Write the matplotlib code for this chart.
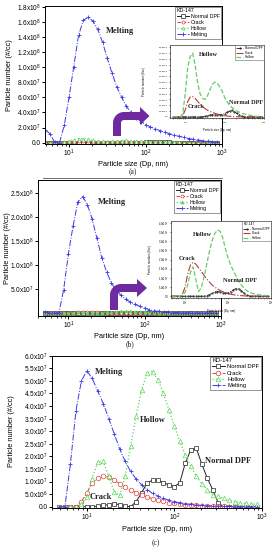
import numpy as np
import matplotlib
matplotlib.use('Agg')
import matplotlib.pyplot as plt
from matplotlib.ticker import FixedLocator, FuncFormatter, LogLocator, NullFormatter
from matplotlib.patches import Polygon

plt.rcParams['font.family'] = ['Liberation Sans', 'DejaVu Sans']
plt.rcParams['mathtext.fontset'] = 'custom'
plt.rcParams['mathtext.rm'] = 'Liberation Sans'
plt.rcParams['mathtext.it'] = 'Liberation Sans:italic'
plt.rcParams['mathtext.bf'] = 'Liberation Sans:bold'

# ---------------- data ----------------
sizes_nm = [4.87, 5.62, 6.49, 7.50, 8.66, 10.0, 11.5, 13.3, 15.4, 17.8, 20.5, 23.7,
            27.4, 31.6, 36.5, 42.2, 48.7, 56.2, 64.9, 75.0, 86.6, 100, 115, 133,
            154, 178, 205, 237, 274, 316, 365, 422, 487, 562, 649, 750, 866]
series_names = ['Normal DPF', 'Crack', 'Hollow', 'Melting']
legend_title = 'KD-147'

# panel (a): melting in 1e7 #/cc, others in 1e6 #/cc
a_melting_e7 = [1.7, 1.2, 0.05, 0, 2.3, 6.0, 10.0, 14.2, 16.2, 16.6, 16.1, 15.0,
                13.3, 11.2, 9.2, 7.4, 6.0, 4.8, 4.0, 3.3, 2.8, 2.4, 2.1, 1.85,
                1.6, 1.4, 1.2, 1.0, 0.85, 0.7, 0.55, 0.45, 0.35, 0.28, 0.2, 0.15, 0.1]
a_normal_e6 = [0, 0, 0, 0, 0, 0, 0, 0, 0, 0, 0, 0, 0,
               0.05, 0.1, 0.15, 0.18, 0.2, 0.2, 0.18, 0.2, 0.28, 0.4, 0.5, 0.55,
               0.45, 0.3, 0.15, 0.05, 0, 0, 0, 0, 0, 0, 0, 0]
a_crack_e6 = [0, 0, 0, 0, 0.1, 0.6, 1.3, 1.7, 1.75, 1.6, 1.35, 1.1, 0.9, 0.72,
              0.58, 0.47, 0.38, 0.3, 0.24, 0.18, 0.13, 0.1, 0.07, 0.05, 0.03, 0.02,
              0.01, 0, 0, 0, 0, 0, 0, 0, 0, 0, 0]
a_hollow_e6 = [0, 0, 0, 0, 0.3, 2.0, 4.2, 5.2, 5.5, 4.5, 3.0, 2.0, 1.6, 1.5, 1.8,
               2.3, 2.8, 3.0, 2.9, 2.6, 2.2, 1.7, 1.3, 1.0, 0.8, 0.65, 0.5, 0.4,
               0.3, 0.25, 0.2, 0.15, 0.1, 0.08, 0.05, 0.03, 0.02]

# panel (b)
b_melting_e7 = [0.3, 0, 0, 0, 4.8, 12.3, 18.0, 23.1, 24.2, 22.5, 19.5, 15.5,
                11.5, 8.6, 6.3, 4.8, 3.7, 2.9, 2.3, 1.8, 1.4, 1.0, 0.7, 0.5,
                0.35, 0.25, 0.18, 0.12, 0.08, 0.05, 0.03, 0.02, 0.01, 0, 0, 0, 0]
b_normal_e6 = [0, 0, 0, 0, 0, 0, 0, 0, 0, 0, 0, 0, 0,
               0.03, 0.08, 0.15, 0.22, 0.25, 0.24, 0.2, 0.17, 0.18, 0.25, 0.35, 0.42,
               0.4, 0.3, 0.15, 0.05, 0, 0, 0, 0, 0, 0, 0, 0]
b_crack_e6 = [0, 0, 0, 0, 0.1, 0.5, 1.2, 1.7, 1.85, 1.75, 1.55, 1.35, 1.15, 0.95,
              0.78, 0.62, 0.5, 0.4, 0.32, 0.25, 0.19, 0.15, 0.11, 0.08, 0.06, 0.04,
              0.03, 0.02, 0.01, 0, 0, 0, 0, 0, 0, 0, 0]
b_hollow_e6 = [0, 0, 0, 0, 0.05, 0.2, 0.6, 1.3, 1.6, 0.9, 0.25, 0.45, 1.0, 1.7,
               2.4, 3.0, 3.4, 3.6, 3.55, 3.2, 2.6, 2.1, 1.7, 1.4, 1.1, 0.8, 0.6,
               0.42, 0.3, 0.22, 0.16, 0.12, 0.09, 0.07, 0.05, 0.04, 0.03]

# panel (c): all in 1e7 #/cc
c_normal_e7 = [0, 0, 0, 0, 0, 0, 0, 0.02, 0.05, 0.08, 0.12, 0.08, 0.02, 0, 0.2,
               0.55, 0.95, 1.05, 1.07, 0.95, 0.87, 0.8, 0.95, 1.73, 2.26, 2.32, 1.7,
               1.14, 0.67, 0.15, 0, 0, 0, 0, 0, 0, 0]
c_crack_e7 = [0, 0, 0, 0, 0.2, 0.55, 0.94, 1.14, 1.2, 1.18, 1.05, 0.92, 0.78, 0.66,
              0.56, 0.47, 0.39, 0.32, 0.26, 0.21, 0.16, 0.13, 0.1, 0.08, 0.06, 0.05,
              0.04, 0.03, 0.02, 0.015, 0.01, 0.005, 0, 0, 0, 0, 0]
c_hollow_e7 = [0, 0, 0, 0, 0.1, 0.4, 1.12, 1.77, 1.8, 1.2, 0.6, 0.45, 1.2, 2.4,
               3.6, 4.65, 5.3, 5.37, 5.05, 4.5, 3.85, 3.2, 2.6, 2.05, 1.6, 1.22,
               0.92, 0.67, 0.48, 0.41, 0.33, 0.26, 0.2, 0.15, 0.13, 0.11, 0.1]
c_melting_e7 = [0, 0, 1.7, 3.8, 5.0, 5.4, 5.1, 4.6, 4.1, 3.5, 2.9, 2.3, 1.8, 1.4,
                1.1, 0.87, 0.68, 0.53, 0.42, 0.33, 0.26, 0.2, 0.15, 0.12, 0.09,
                0.07, 0.05, 0.04, 0.03, 0.02, 0.015, 0.01, 0.005, 0, 0, 0, 0]

E6, E7 = 1e6, 1e7
x = np.array(sizes_nm)

# ---------------- styling ----------------
C_BLACK = '#222222'
C_RED = '#E2403F'
C_GREEN = '#5CD65C'
C_BLUE = '#3A3AE6'
C_PURPLE = '#6E2A9E'

W, H = 278, 550
fig = plt.figure(figsize=(W / 100, H / 100), dpi=100)


def px_axes(l, t, r, b, **kw):
    return fig.add_axes([l / W, 1 - b / H, (r - l) / W, (b - t) / H], **kw)


def sci_fmt(v, pos=None):
    if abs(v) < 1e-9:
        return '0.0'
    e = int(np.floor(np.log10(abs(v)) + 1e-9))
    m = v / 10 ** e
    return r'$%.1f\mathrm{x}10^{%d}$' % (m, e)


def dec_fmt(v, pos=None):
    return r'$10^{%d}$' % int(round(np.log10(v)))


def style_axes(ax, xlim, ylim, yticks, fs, lfs, tl, lw, pad, xlabpad, ylabx):
    ax.set_xscale('log')
    ax.set_xlim(*xlim)
    ax.set_ylim(*ylim)
    ax.yaxis.set_major_locator(FixedLocator(yticks))
    ax.yaxis.set_major_formatter(FuncFormatter(sci_fmt))
    ax.xaxis.set_major_locator(FixedLocator([10, 100, 1000]))
    ax.xaxis.set_major_formatter(FuncFormatter(dec_fmt))
    ax.xaxis.set_minor_locator(LogLocator(base=10, subs=np.arange(2, 10)))
    ax.xaxis.set_minor_formatter(NullFormatter())
    ax.tick_params(labelsize=fs, length=tl, width=lw, pad=pad, direction='out')
    ax.tick_params(which='minor', length=tl * 0.6, width=lw * 0.8)
    for s in ax.spines.values():
        s.set_linewidth(lw)
    ax.set_xlabel('Particle size (Dp, nm)', fontsize=lfs, labelpad=xlabpad)
    ax.set_ylabel('Particle number (#/cc)', fontsize=lfs)
    ax.yaxis.set_label_coords(ylabx, 0.5)


def main_lines(ax, normal, crack, hollow, melting, ms, hollow_filled=False):
    hs = []
    hs += ax.plot(x, normal, '-', color=C_BLACK, lw=0.7, marker='s', ms=ms,
                  mfc='white', mew=0.5, label=series_names[0])
    hs += ax.plot(x, crack, '--', color=C_RED, lw=0.7, marker='o', ms=ms,
                  mfc='white', mew=0.5, label=series_names[1])
    hs += ax.plot(x, hollow, ':', color=C_GREEN, lw=0.9, marker='^', ms=ms,
                  mfc=(C_GREEN if hollow_filled else 'white'), mew=0.5,
                  label=series_names[2])
    hs += ax.plot(x, melting, '-.', color=C_BLUE, lw=0.7, marker='+', ms=ms,
                  mew=0.6, label=series_names[3])
    return hs


def main_legend(ax, hs, fs):
    leg = ax.legend(handles=hs, title=legend_title, loc='upper right',
                    fontsize=fs, title_fontsize=fs, frameon=True, fancybox=False,
                    edgecolor='#444444', borderaxespad=0.15, borderpad=0.3,
                    labelspacing=0.18, handlelength=2.2, handletextpad=0.4)
    leg.get_frame().set_linewidth(0.5)
    leg._legend_box.align = 'left'


def inset_lines(ax, normal, crack, hollow, with_title):
    hs = []
    hs += ax.plot(x, normal, '-.', color=C_BLACK, lw=0.6, marker='.', ms=1,
                  label=series_names[0])
    hs += ax.plot(x, crack, '-.', color='#B83A3A', lw=0.8,
                  label=series_names[1])
    hs += ax.plot(x, hollow, '--', color='#66CC66', lw=0.9,
                  label=series_names[2])
    leg = ax.legend(handles=hs, title=(legend_title if with_title else None),
                    loc='upper right', fontsize=2.3, title_fontsize=2.3,
                    frameon=True, fancybox=False, edgecolor='#444444',
                    borderaxespad=0.15, borderpad=0.3, labelspacing=0.15,
                    handlelength=2.2, handletextpad=0.4)
    leg.get_frame().set_linewidth(0.4)
    leg._legend_box.align = 'left'


# ---------------- panel (a) ----------------
ax_a = px_axes(45, 6, 222, 143.5)
hs = main_lines(ax_a, np.array(a_normal_e6) * E6, np.array(a_crack_e6) * E6,
                np.array(a_hollow_e6) * E6, np.array(a_melting_e7) * E7, ms=2.2)
style_axes(ax_a, (4.85, 1000), (-1.06e6, 1.809e8), np.arange(0, 1.81e8, 2e7),
           fs=4.7, lfs=5.3, tl=2.2, lw=0.7, pad=1.0, xlabpad=1.0, ylabx=-0.178)
main_legend(ax_a, hs, 3.8)

ins_a = px_axes(170, 45, 264, 118)
inset_lines(ins_a, np.array(a_normal_e6) * E6, np.array(a_crack_e6) * E6,
            np.array(a_hollow_e6) * E6, with_title=False)
style_axes(ins_a, (4.1, 1000), (-0.1e6, 6.2e6), np.arange(0, 6.01e6, 5e5),
           fs=1.7, lfs=2.1, tl=1.0, lw=0.4, pad=0.5, xlabpad=1.2, ylabx=-0.25)

# ---------------- panel (b) ----------------
ax_b = px_axes(38, 180, 221, 315.7)
hs = main_lines(ax_b, np.array(b_normal_e6) * E6, np.array(b_crack_e6) * E6,
                np.array(b_hollow_e6) * E6, np.array(b_melting_e7) * E7, ms=2.2,
                hollow_filled=True)
style_axes(ax_b, (4.0, 1000), (-5.4e6, 2.764e8), np.arange(5e7, 2.51e8, 5e7),
           fs=4.7, lfs=5.3, tl=2.2, lw=0.7, pad=1.0, xlabpad=1.0, ylabx=-0.15)
main_legend(ax_b, hs, 3.8)

ins_b = px_axes(171, 221, 271, 297.5)
inset_lines(ins_b, np.array(b_normal_e6) * E6, np.array(b_crack_e6) * E6,
            np.array(b_hollow_e6) * E6, with_title=True)
style_axes(ins_b, (4.7, 1000), (-0.07e6, 4.1e6), np.arange(0, 4.01e6, 5e5),
           fs=1.8, lfs=2.1, tl=1.0, lw=0.4, pad=0.5, xlabpad=1.2, ylabx=-0.19)

# ---------------- panel (c) ----------------
ax_c = px_axes(52, 355.7, 262, 507.5)
hs = main_lines(ax_c, np.array(c_normal_e7) * E7, np.array(c_crack_e7) * E7,
                np.array(c_hollow_e7) * E7, np.array(c_melting_e7) * E7, ms=3.3)
style_axes(ax_c, (4.0, 1000), (-3.2e5, 6.0e7), np.arange(0, 6.01e7, 5e6),
           fs=4.7, lfs=5.3, tl=2.2, lw=0.7, pad=1.0, xlabpad=2.0, ylabx=-0.174)
main_legend(ax_c, hs, 4.2)

# ---------------- overlay (annotations, arrows, captions) ----------------
ov = fig.add_axes([0, 0, 1, 1], zorder=10)
ov.set_xlim(0, W)
ov.set_ylim(H, 0)
ov.axis('off')
ov.patch.set_alpha(0)


def bent_arrow(L, yb, yc, hb, tip, w=8, t=8, hh=9, rin=3):
    R = w + rin
    top = yc - t / 2
    bot = yc + t / 2
    pts = [(L, yb), (L, top + R)]
    cx, cy = L + R, top + R
    for ph in np.linspace(0, np.pi / 2, 12):
        pts.append((cx - R * np.cos(ph), cy - R * np.sin(ph)))
    pts += [(hb, top), (hb, yc - hh), (tip, yc), (hb, yc + hh), (hb, bot),
            (L + w + rin, bot)]
    cx2, cy2 = L + w + rin, bot + rin
    for ph in np.linspace(np.pi / 2, 0, 8):
        pts.append((cx2 - rin * np.cos(ph), cy2 - rin * np.sin(ph)))
    pts.append((L + w, yb))
    ov.add_patch(Polygon(pts, closed=True, facecolor=C_PURPLE, edgecolor='none'))


bent_arrow(113, 136, 116, 140, 149.5)
bent_arrow(110, 310, 288, 137, 147)

serif_b = dict(family=['Liberation Serif', 'DejaVu Serif'], fontweight='bold',
               ha='center', va='center', color='#222222')
ov.text(120, 31, 'Melting', fontsize=6, **serif_b)
ov.text(112, 202, 'Melting', fontsize=6, **serif_b)
ov.text(109, 372, 'Melting', fontsize=6, **serif_b)
ov.text(153, 420, 'Hollow', fontsize=6, **serif_b)
ov.text(228, 461, 'Normal DPF', fontsize=6, **serif_b)
ov.text(101, 497, 'Crack', fontsize=6, **serif_b)

ov.text(208, 55, 'Hollow', fontsize=4.5, **serif_b)
ov.text(196, 107, 'Crack', fontsize=4.5, **serif_b)
ov.text(246, 102, 'Normal DPF', fontsize=4.5, **serif_b)
ov.text(202, 235, 'Hollow', fontsize=4.5, **serif_b)
ov.text(187, 258, 'Crack', fontsize=4.5, **serif_b)
ov.text(240, 281, 'Normal DPF', fontsize=4.5, **serif_b)

cap = dict(family=['Liberation Serif', 'DejaVu Serif'], ha='center', va='center',
           fontsize=5.5, color='#222222')
ov.text(133, 172.5, '(a)', **cap)
ov.text(130, 344, '(b)', **cap)
ov.text(156, 543, '(c)', **cap)
ov.plot([43, 222], [178, 178], color='#333333', lw=0.5)

fig.savefig('out.png', dpi=100)
